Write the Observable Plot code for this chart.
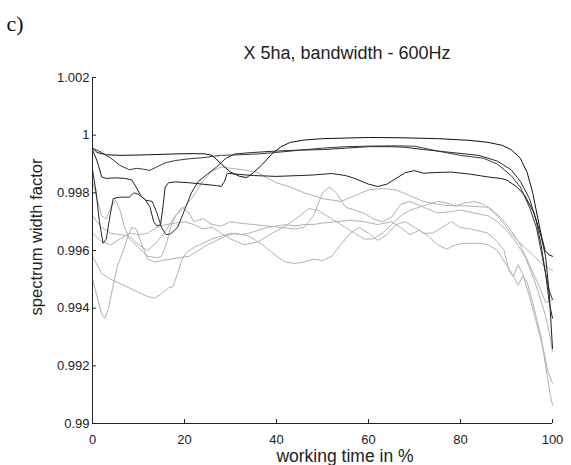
<!DOCTYPE html>
<html><head><meta charset="utf-8">
<script src="https://cdn.jsdelivr.net/npm/d3@7"></script>
<script src="https://cdn.jsdelivr.net/npm/@observablehq/plot@0.6"></script>
<style>body{margin:0;background:#fff}</style>
</head><body><div id="chart"></div>
<script>
const xTicks = [0, 20, 40, 60, 80, 100];
const yTicks = [0.99, 0.992, 0.994, 0.996, 0.998, 1, 1.002];

const dark1 = [[0,0.99955],[1,0.9994],[3,0.99932],[6,0.9993],[10,0.99931],[14,0.99933],[18,0.99935],[22,0.99936],[24.5,0.99935],[26,0.9993],[28,0.999],[30,0.99872],[32,0.99857],[33.5,0.99853],[35,0.9987],[37,0.999],[39,0.99935],[41,0.9996],[43,0.99975],[46,0.99983],[50,0.99988],[55,0.9999],[60,0.99992],[67,0.99991],[75,0.99988],[82,0.99982],[86,0.99975],[89,0.99965],[91,0.9995],[93,0.9992],[94.5,0.9987],[95.7,0.998],[96.7,0.9972],[97.6,0.9965],[98.4,0.996],[99.2,0.99585],[100,0.9958]];
const dark2 = [[0,0.99955],[2,0.9994],[4,0.9992],[6,0.99895],[8,0.9988],[9.5,0.99885],[11,0.99882],[12.5,0.99878],[14,0.9989],[16,0.99905],[18,0.99912],[21,0.99918],[24,0.99922],[28,0.9993],[32,0.99932],[36,0.99935],[40,0.9994],[45,0.99948],[50,0.99955],[55,0.9996],[60,0.99962],[65,0.99963],[70,0.99962],[72,0.99955],[75,0.99945],[80,0.9993],[85,0.9992],[88,0.999],[91,0.9986],[93,0.9982],[95,0.9975],[96.5,0.9968],[97.5,0.996],[98.5,0.9952],[99.3,0.9946],[100,0.9943]];
const dark3 = [[0,0.9995],[1,0.9991],[2,0.99855],[3,0.9985],[5,0.99852],[7,0.9985],[8.5,0.99845],[9.5,0.9982],[10.5,0.9979],[11.5,0.99775],[12.5,0.9975],[13.3,0.997],[14,0.99685],[14.8,0.9969],[15.3,0.9975],[15.8,0.9982],[16.5,0.99835],[18,0.99838],[21,0.99835],[24,0.9983],[27,0.99825],[28,0.99822],[28.7,0.9984],[29.3,0.99868],[31,0.99865],[35,0.9986],[40,0.99857],[45,0.9986],[48,0.99862],[52,0.99867],[55,0.9986],[57,0.9985],[60,0.9983],[62,0.99822],[64,0.9983],[66,0.9985],[68,0.9987],[70,0.99877],[71,0.99872],[72,0.99868],[74,0.9987],[78,0.99872],[82,0.99865],[86,0.99855],[88.7,0.9985],[90,0.99845],[92.3,0.9982],[94,0.9979],[96,0.9973],[97.5,0.9965],[98.5,0.9958],[99.3,0.9945],[100,0.9926]];
const dark4 = [[0,0.9988],[0.8,0.998],[1.5,0.997],[2.3,0.99625],[3,0.9964],[3.8,0.9972],[4.5,0.9978],[6,0.99785],[8,0.99785],[9,0.998],[10,0.99795],[11.5,0.99775],[13,0.9977],[14,0.9973],[15,0.9968],[16,0.99655],[17,0.99658],[18.5,0.9968],[20,0.9974],[21.5,0.998],[23,0.9984],[25,0.99865],[27,0.9989],[29,0.9992],[31,0.99935],[35,0.9994],[40,0.99945],[45,0.99948],[50,0.9995],[55,0.99955],[60,0.9996],[65,0.9996],[68,0.99958],[72,0.9995],[78,0.9994],[84,0.9993],[88,0.9991],[91,0.9988],[93,0.9984],[95,0.9978],[96.5,0.997],[97.5,0.9962],[98.5,0.9952],[99.3,0.9942],[100,0.99365]];

const gray1 = [[0,0.9984],[1,0.9978],[2,0.9972],[3,0.9971],[4,0.9975],[5,0.99775],[6,0.9974],[7,0.9968],[8,0.9964],[10,0.9961],[12,0.9958],[14,0.99575],[15,0.9958],[16,0.9962],[17,0.9968],[18,0.9972],[19.5,0.9975],[21,0.9973],[22,0.997],[24,0.9971],[26,0.9969],[28,0.99685],[30,0.997],[32,0.99695],[35,0.9969],[38,0.99685],[41,0.9968],[44,0.99675],[46,0.9968],[48,0.9972],[50,0.998],[51.5,0.9982],[53,0.998],[55,0.9975],[57,0.9974],[59,0.9973],[61,0.9971],[63,0.997],[65,0.99715],[67,0.9976],[69,0.9977],[72,0.9975],[75,0.9973],[78,0.99735],[80,0.9974],[83,0.9973],[86,0.9972],[88,0.997],[90,0.9967],[92,0.9963],[94,0.9958],[96,0.995],[98,0.994],[99,0.9934],[100,0.9925]];
const gray2 = [[0,0.9972],[2,0.9968],[4,0.9966],[6,0.99655],[8,0.9965],[10,0.9962],[12,0.996],[14,0.9963],[16,0.9967],[18,0.9972],[20,0.9975],[22,0.9979],[24,0.9984],[26,0.99875],[28,0.9989],[30,0.99885],[33,0.9988],[36,0.9987],[38,0.9985],[40,0.99835],[43,0.9982],[46,0.998],[50,0.9978],[54,0.9977],[57,0.9979],[60,0.9981],[63,0.99815],[66,0.9981],[69,0.9979],[72,0.9977],[75,0.9976],[78,0.99755],[81,0.99755],[84,0.99752],[86,0.9975],[88,0.9972],[90,0.9968],[92,0.9964],[94,0.9961],[96,0.9958],[98,0.9955],[100,0.9953]];
const gray3 = [[0,0.995],[1,0.9944],[2,0.9938],[2.7,0.99365],[3.5,0.994],[4.5,0.9948],[5.5,0.9955],[6.5,0.9959],[7.5,0.9964],[8.5,0.9968],[9.5,0.99675],[10.5,0.9963],[12,0.9957],[13.5,0.9956],[15,0.99565],[17,0.9957],[19,0.99575],[21,0.9958],[23,0.996],[25,0.9962],[27,0.99635],[29,0.9965],[31,0.9966],[34,0.9965],[37,0.9962],[40,0.9958],[42,0.9956],[44,0.99555],[46,0.9956],[48,0.9957],[50,0.99565],[52,0.9958],[54,0.9962],[56,0.9966],[58,0.9968],[60,0.9966],[62,0.99635],[64,0.99655],[66,0.9969],[68,0.997],[70,0.9968],[72,0.9966],[74,0.9966],[76,0.9968],[78,0.997],[80,0.9968],[82,0.99675],[84,0.99668],[86,0.9966],[88,0.9963],[89.5,0.996],[90.5,0.9953],[91.5,0.9951],[92.5,0.9955],[93.5,0.9952],[95,0.9944],[96.5,0.9935],[98,0.9926],[99,0.9918],[100,0.9914]];
const gray4 = [[0,0.9958],[1,0.9955],[2,0.9952],[4,0.995],[6,0.99485],[8,0.9947],[10,0.99455],[12,0.9944],[13.5,0.99435],[15,0.9945],[16.5,0.9947],[17.5,0.99475],[18.5,0.9952],[19.5,0.9957],[20.5,0.99595],[22,0.9961],[24,0.99625],[26,0.9964],[28,0.9965],[30,0.9966],[32,0.99655],[34,0.9966],[36,0.9967],[38,0.9968],[40,0.99685],[42,0.9969],[44,0.99685],[46,0.9969],[48,0.9969],[50,0.99695],[53,0.997],[56,0.99705],[59,0.997],[62,0.9969],[65,0.997],[67,0.9968],[69,0.99655],[71,0.9967],[73,0.9965],[75,0.9962],[77,0.99605],[79,0.9962],[81,0.99625],[84,0.99625],[86,0.9962],[88,0.996],[90,0.9955],[91.5,0.9951],[92.5,0.9948],[93.5,0.9951],[94.5,0.9949],[96,0.994],[97.5,0.993],[99,0.9915],[99.5,0.991],[100,0.99065]];
const gray5 = [[0,0.9966],[2,0.9963],[4,0.9962],[6,0.9964],[8,0.9966],[10,0.99655],[12,0.9966],[14,0.9968],[16,0.9969],[18,0.99695],[20,0.997],[22,0.9969],[24,0.99675],[26,0.9968],[28,0.9966],[30,0.9964],[33,0.9962],[36,0.9963],[39,0.9966],[42,0.99685],[45,0.9972],[47,0.99745],[49,0.9974],[51,0.9972],[53,0.997],[55,0.9968],[57,0.9966],[59,0.9964],[61,0.9964],[63,0.9966],[65,0.9969],[67,0.9972],[69,0.9974],[71,0.9975],[73,0.9976],[75,0.9977],[77,0.99765],[79,0.99755],[81,0.99765],[83,0.9977],[85,0.9976],[87,0.9974],[89,0.9971],[91,0.9967],[93,0.9962],[95,0.9955],[97,0.9948],[98.5,0.9942],[100,0.9943]];

const darkSeries = [dark1, dark2, dark3, dark4];
const graySeries = [gray1, gray2, gray3, gray4, gray5];
const darkColors = ["#111111", "#3a3a3a", "#1e1e1e", "#2a2a2a"];
const grayColor = "#b2b2b2";

const W = 571, H = 465, mL = 92, mR = 19, mT = 77, mB = 42;
const fmtY = d => String(+d.toFixed(3));

const marks = [];
graySeries.forEach(s => marks.push(Plot.line(s, {x: d => d[0], y: d => d[1], stroke: grayColor, strokeWidth: 1})));
darkSeries.forEach((s, i) => marks.push(Plot.line(s, {x: d => d[0], y: d => d[1], stroke: darkColors[i], strokeWidth: 1})));
marks.push(
  Plot.ruleX([0], {stroke: "#222"}),
  Plot.ruleY([0.99], {stroke: "#222"}),
  Plot.tickY(yTicks, {y: d => d, stroke: "#222", insetRight: (W - mL - mR) - 4}),
  Plot.tickX(xTicks, {x: d => d, stroke: "#222", insetTop: (H - mT - mB) - 4}),
  Plot.text(yTicks, {y: d => d, text: fmtY, frameAnchor: "left", textAnchor: "end", dx: -3, fill: "#222", fontSize: 13}),
  Plot.text(xTicks, {x: d => d, text: d => String(d), frameAnchor: "bottom", lineAnchor: "top", dy: 11, fill: "#222", fontSize: 13})
);

const chart = Plot.plot({
  width: W, height: H,
  marginLeft: mL, marginRight: mR, marginTop: mT, marginBottom: mB,
  style: {fontFamily: "'Liberation Sans', Arial, sans-serif", background: "#fff", overflow: "visible"},
  x: {domain: [0, 100], axis: null},
  y: {domain: [0.99, 1.002], axis: null},
  marks
});
document.getElementById("chart").appendChild(chart);

const svg = d3.select(chart);
svg.append("text").attr("x", 15).attr("y", 31)
  .style("font-family", "'Liberation Serif', 'Times New Roman', serif").style("font-size", "22px").attr("fill", "#111").text("c)");
svg.append("text").attr("x", 347).attr("y", 59).attr("text-anchor", "middle")
  .style("font-family", "'Liberation Sans', Arial, sans-serif").style("font-size", "18px").attr("fill", "#222").text("X 5ha, bandwidth - 600Hz");
svg.append("text").attr("x", 345).attr("y", 462).attr("text-anchor", "middle")
  .style("font-family", "'Liberation Sans', Arial, sans-serif").style("font-size", "17.5px").attr("fill", "#222").text("working time in %");
svg.append("text").attr("transform", "translate(42,237) rotate(-90)").attr("text-anchor", "middle")
  .style("font-family", "'Liberation Sans', Arial, sans-serif").style("font-size", "16.5px").attr("fill", "#222").text("spectrum width factor");
</script>
</body></html>
